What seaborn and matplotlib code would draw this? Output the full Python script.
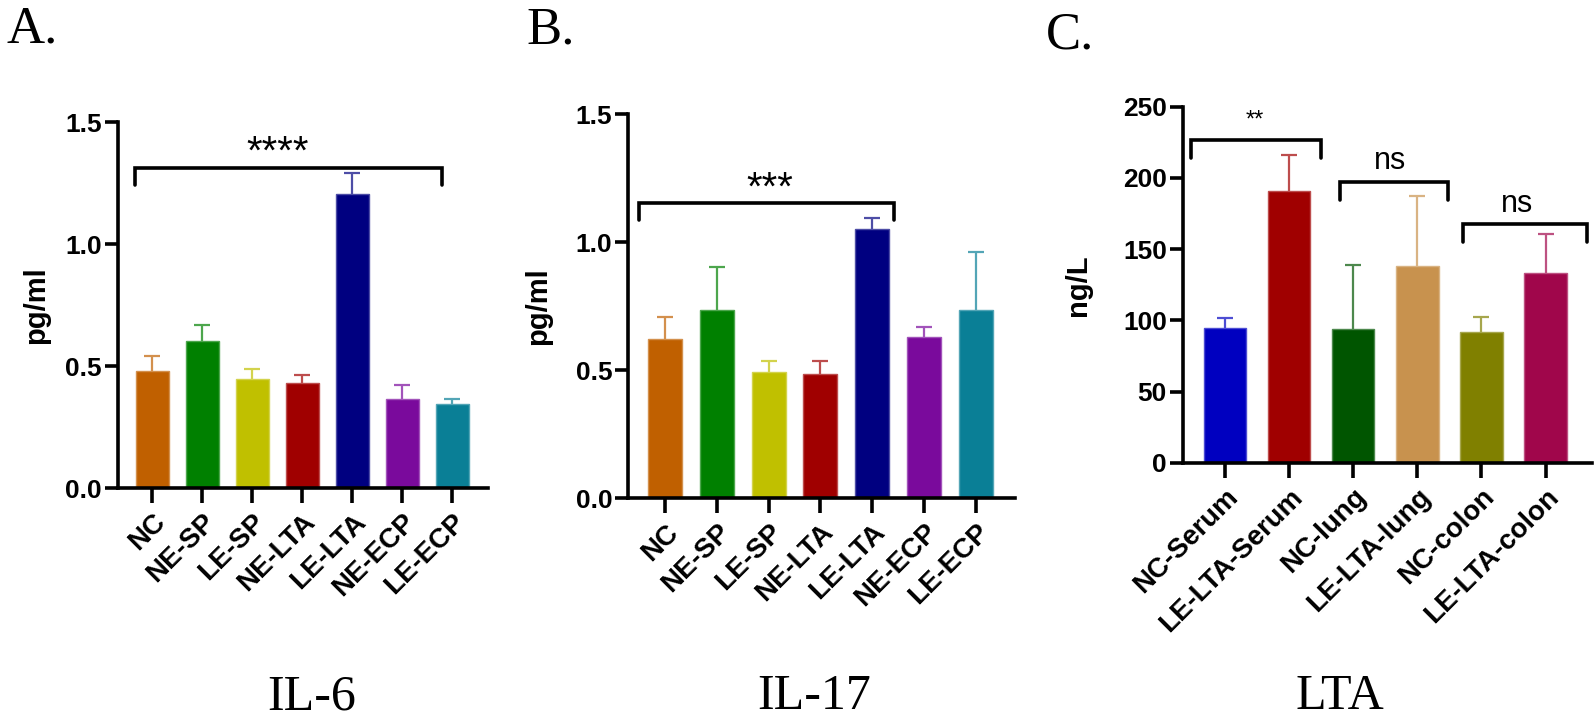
import numpy as np
import seaborn as sns
import matplotlib.pyplot as plt
from matplotlib.colors import to_rgb

# ---- data ----
il_groups = ["NC", "NE-SP", "LE-SP", "NE-LTA", "LE-LTA", "NE-ECP", "LE-ECP"]
il_colors = ["#C06000", "#008000", "#C0C000", "#A00000", "#000080", "#7A0A9C", "#0A7F96"]

il6_mean = [0.481, 0.601, 0.445, 0.429, 1.205, 0.366, 0.345]
il6_err = [0.062, 0.066, 0.044, 0.035, 0.085, 0.056, 0.020]

il17_mean = [0.621, 0.734, 0.495, 0.486, 1.053, 0.630, 0.734]
il17_err = [0.086, 0.171, 0.040, 0.050, 0.042, 0.040, 0.227]

lta_groups = ["NC-Serum", "LE-LTA-Serum", "NC-lung", "LE-LTA-lung", "NC-colon", "LE-LTA-colon"]
lta_colors = ["#0000C0", "#A00000", "#005500", "#C8924E", "#808000", "#A0064B"]
lta_mean = [94.6, 191.0, 93.9, 137.9, 91.8, 133.6]
lta_err = [7.4, 25.3, 45.1, 49.6, 10.9, 27.4]

# significance brackets: (x_start, x_end, y_bar, y_tip, label, x_text, y_text, fontsize)
il6_sig = [(-0.34, 5.79, 1.31, 1.24, "****", 2.5, 1.33, 29)]
il17_sig = [(-0.51, 4.43, 1.155, 1.087, "***", 2.02, 1.165, 29)]
lta_sig = [(-0.535, 1.49, 226.3, 214.0, "**", 0.47, 236.0, 17),
           (1.79, 3.47, 197.1, 184.7, "ns", 2.57, 206.0, 22),
           (3.71, 5.64, 167.6, 155.0, "ns", 4.55, 176.0, 22)]

sns.set_style("ticks")
plt.rcParams["font.family"] = ["Liberation Sans", "DejaVu Sans"]
for k in ("text.color", "axes.labelcolor", "xtick.color", "ytick.color", "axes.edgecolor"):
    plt.rcParams[k] = "black"

fig = plt.figure(figsize=(15.94, 7.18), dpi=100)


def lighter(c, f=0.3):
    r = np.array(to_rgb(c))
    return tuple(r + (1 - r) * f)


def panel(rect, groups, mean, err, colors, ylim, yticks, ylabel, xlim, sig, label_x):
    ax = fig.add_axes(rect)
    sns.barplot(x=groups, y=mean, hue=groups, palette=dict(zip(groups, colors)),
                legend=False, saturation=1, width=0.66, ax=ax)
    for p, c in zip(ax.patches, colors):
        p.set_edgecolor(lighter(c))
        p.set_linewidth(1.0)
    # upper-only error bars
    for i, (m, e, c) in enumerate(zip(mean, err, colors)):
        _, caps, _ = ax.errorbar(i, m, yerr=[[0], [e]], color=lighter(c), elinewidth=1.6,
                                 capsize=6, capthick=1.6, zorder=3)
        caps[0].remove()
    for x1, x2, yb, yt, txt, xt, ytxt, fs in sig:
        ax.plot([x1, x1, x2, x2], [yt, yb, yb, yt], color="black", lw=2.6,
                solid_joinstyle="miter", clip_on=False)
        ax.text(xt, ytxt, txt, ha="center", va="baseline", fontsize=fs)
    ax.set_ylim(*ylim)
    ax.set_yticks(yticks)
    ax.set_xlim(*xlim)
    sns.despine(ax=ax)
    for s in ("left", "bottom"):
        ax.spines[s].set_linewidth(2.6)
    ax.tick_params(axis="y", length=9.5, width=2.6, labelsize=19, pad=2)
    ax.tick_params(axis="x", length=11, width=2.6, labelsize=20, pad=4)
    ax.set_xticks(range(len(groups)))
    ax.set_xticklabels(groups, rotation=45, ha="right", rotation_mode="anchor",
                       fontweight="bold")
    plt.setp(ax.get_yticklabels(), fontweight="bold")
    ax.set_ylabel(ylabel, fontsize=21, fontweight="bold")
    ax.yaxis.set_label_coords(label_x, 0.5)
    ax.set_xlabel("")
    return ax


ax_a = panel([0.0740, 0.3203, 0.2321, 0.5097], il_groups, il6_mean, il6_err, il_colors,
             (0, 1.5), [0.0, 0.5, 1.0, 1.5], "pg/ml", (-0.69, 6.71), il6_sig, -0.184)
ax_b = panel([0.3942, 0.3060, 0.2426, 0.5348], il_groups, il17_mean, il17_err, il_colors,
             (0, 1.5), [0.0, 0.5, 1.0, 1.5], "pg/ml", (-0.71, 6.76), il17_sig, -0.198)
ax_c = panel([0.7420, 0.3552, 0.2566, 0.4962], lta_groups, lta_mean, lta_err, lta_colors,
             (0, 250), [0, 50, 100, 150, 200, 250], "ng/L", (-0.66, 5.72), lta_sig, -0.2225)

for ax in (ax_a, ax_b):
    ax.yaxis.set_major_formatter(plt.FormatStrFormatter("%.1f"))

serif = ["Liberation Serif", "DejaVu Serif"]
for x, y, t in [(0.004, 0.9415, "A."), (0.330, 0.940, "B."), (0.656, 0.932, "C.")]:
    fig.text(x, y, t, fontsize=38, family=serif, va="baseline")
for x, t in [(0.1957, "IL-6"), (0.5107, "IL-17"), (0.8407, "LTA")]:
    fig.text(x, 0.012, t, fontsize=36, family=serif, ha="center", va="baseline")

fig.savefig("out.png", dpi=100)
